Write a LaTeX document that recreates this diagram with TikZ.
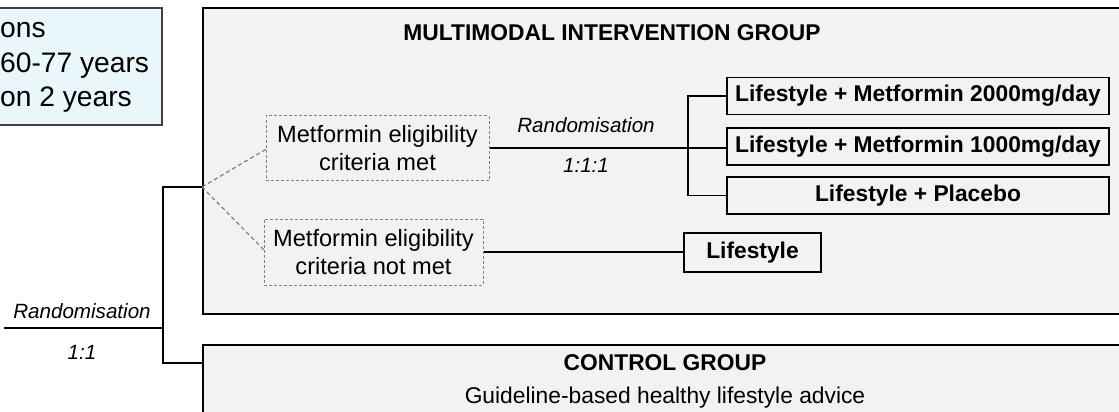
\documentclass[tikz,border=0pt]{standalone}
\usepackage{fontspec}
\setmainfont{Liberation Sans}
\usetikzlibrary{calc, positioning}
\definecolor{groupfill}{HTML}{F2F2F2}
\definecolor{infofill}{HTML}{EAF7FA}
\definecolor{dashgray}{HTML}{7F7F7F}
\newcommand{\boxFont}{\fontsize{22.8}{28}\selectfont}
\newcommand{\plainFont}{\fontsize{23.6}{28}\selectfont}
\tikzset{
	groupbox/.style={draw=black, line width=2pt, fill=groupfill},
	grouptitle/.style={font=\boxFont\bfseries, inner sep=0pt},
	armbox/.style={draw=black, line width=1.8pt, fill=groupfill, font=\boxFont\bfseries, minimum height=37pt, inner sep=0pt},
	eligbox/.style={draw=dashgray, line width=1pt, dash pattern=on 3pt off 2pt, fill=groupfill, align=center, font=\plainFont, inner sep=0pt},
	link/.style={line width=1.6pt},
	dashlink/.style={draw=dashgray, line width=1.2pt, dash pattern=on 4pt off 3pt},
	randlabel/.style={font=\fontsize{20.6}{24}\selectfont\itshape, inner sep=0pt},
}

\begin{document}
\begin{tikzpicture}[x=1pt, y=-1pt]
	\useasboundingbox (0,0) rectangle (1119,412);
	\clip (0,0) rectangle (1119,412);

	\coordinate (split) at (202,187);
	\coordinate (fork) at (688,147);
	\coordinate (start) at (4,328);
	\coordinate (trunk) at (163,328);
	\coordinate (ctrlIn) at (202,363);

	\filldraw[fill=infofill, draw=black!75, line width=1.3pt] (-20,8) rectangle (162,125);
		\node[anchor=west, align=left, inner sep=0pt, font=\fontsize{28.2}{34.5}\selectfont] (info) at (0,67.5) {ons\\60-77 years\\on 2 years};

	\node[groupbox, anchor=north west, minimum width=940pt, minimum height=306pt] (inter) at (202,7) {};
		\node[grouptitle] (interTitle) at (612,33) {MULTIMODAL INTERVENTION GROUP};
	\node[groupbox, anchor=north west, minimum width=940pt, minimum height=120pt] (control) at (202,344) {};
		\node[grouptitle] (controlTitle) at (665,363) {CONTROL GROUP};
		\node[font=\boxFont, inner sep=0pt] (advice) at (665,398) {Guideline-based healthy lifestyle advice};

	\draw[dashlink] (split) -- (268,148);
	\draw[dashlink] (split) -- (266,252);
	\draw[link] (start) -- (trunk);
	\draw[link] (split) -| (trunk) |- (ctrlIn);

	\node[eligbox, minimum width=223pt, minimum height=65pt] (met) at (377.5,148) {Metformin eligibility\\criteria met};
	\node[eligbox, minimum width=219pt, minimum height=66pt] (notmet) at (373.5,252) {Metformin eligibility\\criteria not met};

	\foreach \name/\y/\txt in {armA/96/{Lifestyle + Metformin 2000mg/day}, armB/146.5/{Lifestyle + Metformin 1000mg/day}, armC/195.5/{Lifestyle + Placebo}} {
		\node[armbox, minimum width=382pt] (\name) at (918,\y) {\txt};
	}
	\node[armbox, minimum width=137pt, minimum height=39pt] (life) at (752.5,252.5) {Lifestyle};

	\draw[link] (met.east) -- (met.east -| armB.west);
	\draw[link] (armA.west) -| (fork) |- (armC.west);
	\draw[link] (notmet.east) -- (notmet.east -| life.west);

	\node[randlabel] (randInner) at (586,125) {Randomisation};
	\node[randlabel] (ratioInner) at (586,165) {1:1:1};
	\node[randlabel] (randOuter) at (82,311) {Randomisation};
	\node[randlabel] (ratioOuter) at (82,352) {1:1};

\end{tikzpicture}
\end{document}
